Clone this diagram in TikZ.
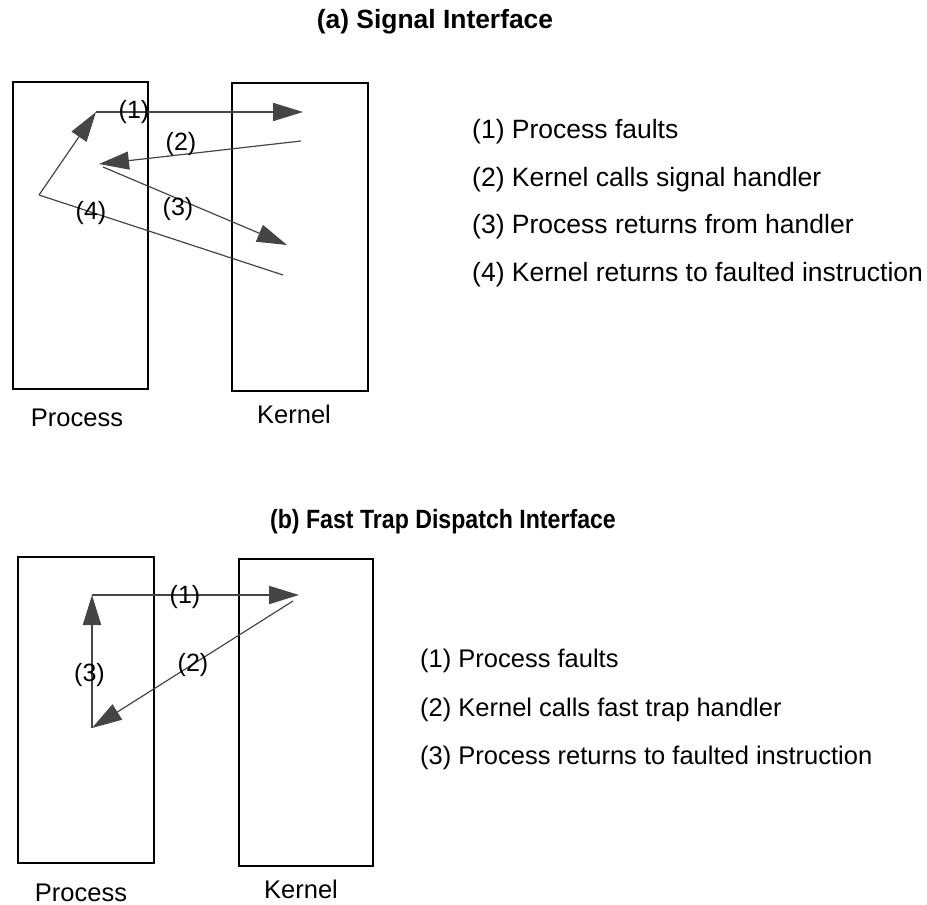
\documentclass[tikz,border=0pt]{standalone}
\usepackage{fontspec}
\setmainfont{Liberation Sans}
\usetikzlibrary{arrows.meta}
\definecolor{arr}{HTML}{454545}
\begin{document}
\begin{tikzpicture}[x=1pt,y=-1pt,
  box/.style={draw=black, line width=2pt, inner sep=0pt},
  flow/.style={draw=arr, line width=1.2pt, -{Triangle[length=30pt,width=18pt]}},
  thickflow/.style={flow, line width=2pt},
  plain/.style={draw=arr, line width=1.2pt},
  lbl/.style={inner sep=0pt, font=\fontsize{25}{30}\selectfont},
  boxcaption/.style={inner sep=0pt, font=\fontsize{25.5}{30}\selectfont},
  title/.style={inner sep=0pt, font=\fontsize{26.4}{30}\selectfont\bfseries},
  legA/.style={inner sep=0pt, anchor=west, font=\fontsize{26.5}{30}\selectfont},
  legB/.style={inner sep=0pt, anchor=west, font=\fontsize{25.5}{30}\selectfont}]
\useasboundingbox (0,0) rectangle (927,905);

% ---------- (a) ----------
\node[title] (ta) at (435,22) {(a) Signal Interface};
\node[box, minimum width=135pt, minimum height=307pt] (p1) at (80.5,235.5) {};
\node[box, minimum width=136pt, minimum height=308pt] (k1) at (300,237) {};
\node[boxcaption] (pl1) at (77,418) {Process};
\node[boxcaption] (kl1) at (294,414) {Kernel};

\coordinate (a1s) at (96,112);
\coordinate (a1e) at (303,112);
\coordinate (a2s) at (301,141);
\coordinate (a2e) at (99,164);
\coordinate (a3s) at (103,167);
\coordinate (a3e) at (287,245);
\coordinate (a4s) at (283,275);
\coordinate (a4m) at (39,195);

\draw[thickflow] (a1s) -- (a1e);
\draw[flow] (a2s) -- (a2e);
\draw[flow] (a3s) -- (a3e);
\draw[plain] (a4s) -- (a4m);
\draw[flow] (a4m) -- (a1s);

\node[lbl] (n1) at (134,112.5) {(1)};
\node[lbl] (n2) at (181,144) {(2)};
\node[lbl] (n3) at (178,209) {(3)};
\node[lbl] (n4) at (91,213) {(4)};

\node[legA] (la1) at (472,132) {(1) Process faults};
\node[legA] (la2) at (472,180) {(2) Kernel calls signal handler};
\node[legA] (la3) at (472,227) {(3) Process returns from handler};
\node[legA] (la4) at (472,275) {(4) Kernel returns to faulted instruction};

% ---------- (b) ----------
\node[title, xscale=0.876, transform shape] (tb) at (443,522) {(b) Fast Trap Dispatch Interface};
\node[box, minimum width=136pt, minimum height=306pt] (p2) at (86,710) {};
\node[box, minimum width=134pt, minimum height=307pt] (k2) at (306,712.5) {};
\node[boxcaption] (pl2) at (81,892.5) {Process};
\node[boxcaption] (kl2) at (301,889) {Kernel};

\coordinate (b1s) at (92,595);
\coordinate (b1e) at (299,595);
\coordinate (b2s) at (293,601);
\coordinate (b2e) at (92,728);

\draw[thickflow] (b1s) -- (b1e);
\draw[flow] (b2s) -- (b2e);
\draw[thickflow] (b2e) -- (b1s);

\node[lbl] (m1) at (185,597) {(1)};
\node[lbl] (m2) at (193,665) {(2)};
\node[lbl] (m3) at (89.5,675) {(3)};

\node[legB] (lb1) at (420,661) {(1) Process faults};
\node[legB] (lb2) at (420,710) {(2) Kernel calls fast trap handler};
\node[legB] (lb3) at (420,758) {(3) Process returns to faulted instruction};
\end{tikzpicture}
\end{document}
